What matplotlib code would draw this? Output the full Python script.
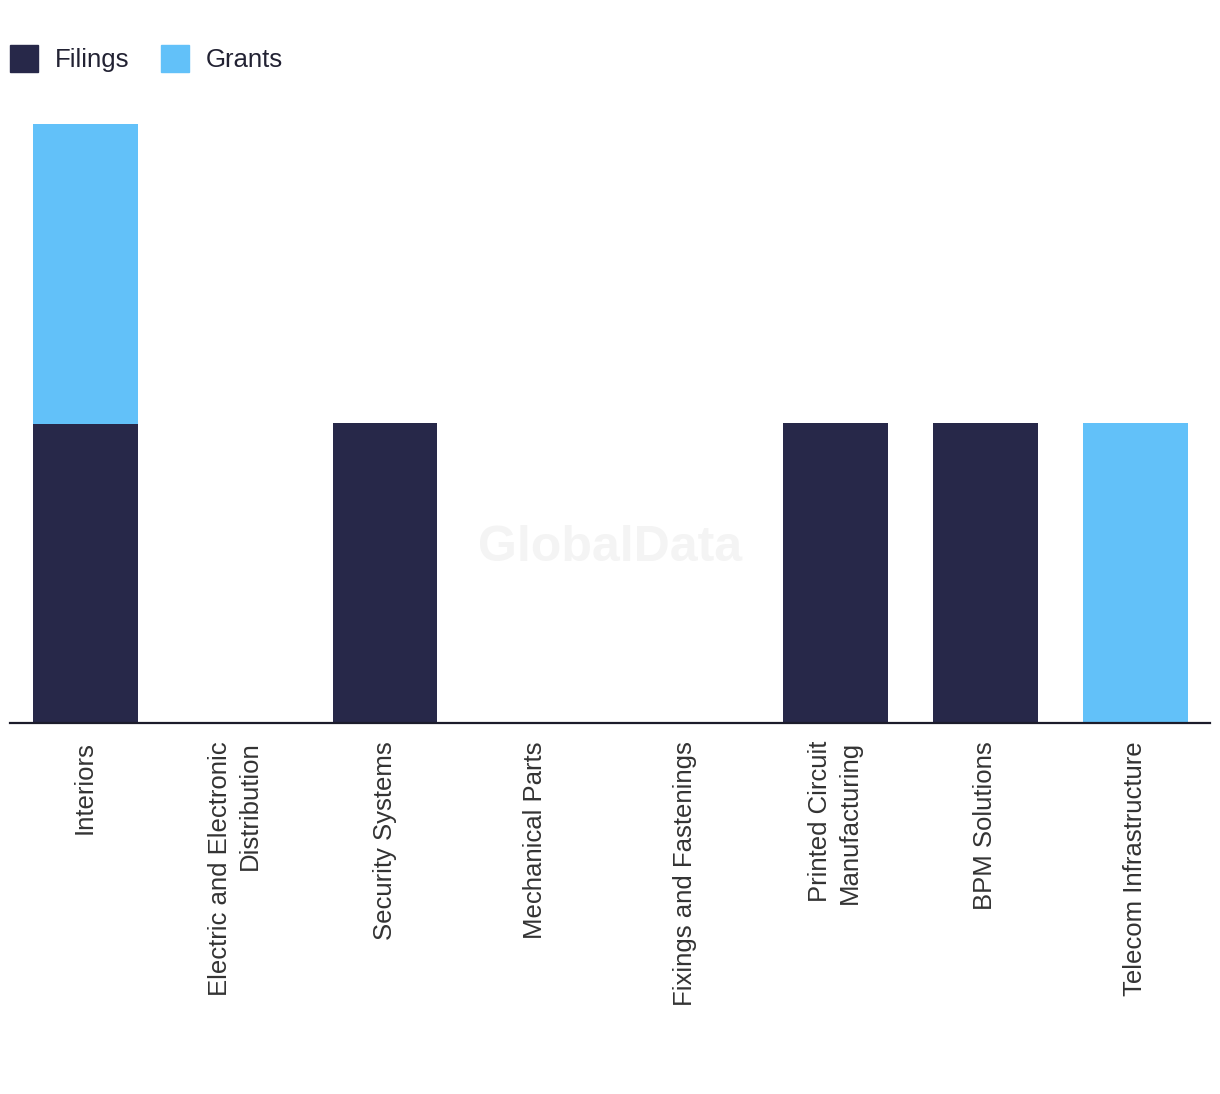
import numpy as np
import matplotlib
matplotlib.use("Agg")
import matplotlib.pyplot as plt
from matplotlib.patches import Patch

plt.rcParams['font.family'] = ['Liberation Sans', 'DejaVu Sans']

# datos del gráfico
categorias = ["Interiors", "Electric and Electronic\nDistribution", "Security Systems",
              "Mechanical Parts", "Fixings and Fastenings", "Printed Circuit\nManufacturing",
              "BPM Solutions", "Telecom Infrastructure"]
filings = [1, 0, 1, 0, 0, 1, 1, 0]
grants = [1, 0, 0, 0, 0, 0, 0, 1]

color_filings = "#272849"
color_grants = "#62C1F9"

W, H = 1220, 1094
fig = plt.figure(figsize=(W / 100, H / 100), dpi=100)
ax = fig.add_axes([10 / W, 371 / H, 1200 / W, 599 / H])

x = np.arange(len(categorias))
ax.bar(x, filings, width=0.7, color=color_filings, zorder=2)
ax.bar(x, grants, width=0.7, bottom=filings, color=color_grants, zorder=2)

ax.set_xlim(-0.5, len(categorias) - 0.5)
ax.set_ylim(0, 2)
ax.set_yticks([])
for s in ["top", "right", "left"]:
    ax.spines[s].set_visible(False)
ax.spines["bottom"].set_color("#1c1c2b")
ax.spines["bottom"].set_linewidth(1.6)
ax.spines["bottom"].set_zorder(3)

ax.set_xticks(x)
ax.set_xticklabels(categorias, rotation=90, fontsize=18.5, color="#333333",
                   ha="center", va="top", multialignment="right", linespacing=1.3)
ax.tick_params(axis="x", length=0, pad=13)

# marca de agua
fig.text(610 / W, 1 - 548 / H, "GlobalData", fontsize=36, fontweight="bold",
         color="#f4f4f4", ha="center", va="center", zorder=0)

handles = [Patch(color=color_filings, label="Filings"),
           Patch(color=color_grants, label="Grants")]
fig.legend(handles=handles, loc="upper left", bbox_to_anchor=(10 / W, 1 - 45 / H),
           ncol=2, frameon=False, fontsize=18.5, handlelength=1.08, handleheight=1.25,
           handletextpad=0.65, columnspacing=1.25, borderpad=0, borderaxespad=0,
           labelcolor="#222233")

fig.savefig("out.png", dpi=100)
